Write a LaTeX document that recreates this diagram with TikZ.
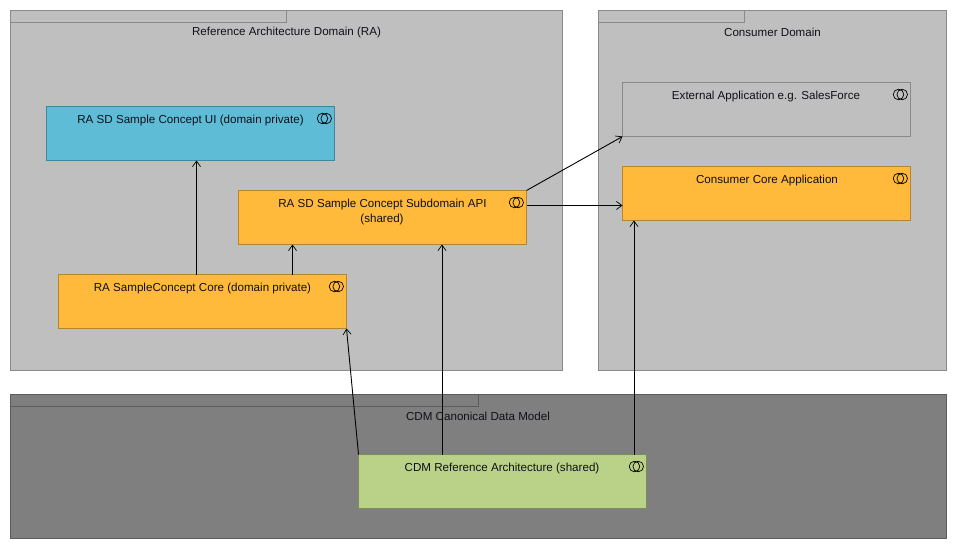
\documentclass[tikz,border=0pt]{standalone}
\usepackage{fontspec}
\setmainfont{Liberation Sans}
\usetikzlibrary{arrows.meta}
\definecolor{pkgfill}{HTML}{BFBFBF}
\definecolor{pkgline}{HTML}{8A8A8A}
\definecolor{cdmfill}{HTML}{7F7F7F}
\definecolor{cdmline}{HTML}{5C5C5C}
\definecolor{bluefill}{HTML}{5EBCD7}
\definecolor{blueline}{HTML}{3F879C}
\definecolor{orangefill}{HTML}{FFB93B}
\definecolor{orangeline}{HTML}{B8862A}
\definecolor{greenfill}{HTML}{B9D287}
\definecolor{greenline}{HTML}{7A8F55}
\definecolor{inkcol}{HTML}{101018}
\tikzset{
  x=1pt,y=-1pt,
  every node/.style={font=\fontsize{11.6}{14}\selectfont,text=inkcol},
  pkgbox/.style={draw=pkgline,fill=pkgfill,line width=0.9pt,minimum height=#1,inner sep=0pt,outer sep=0pt,anchor=north west},
  compbox/.style={draw=#1line,fill=#1fill,line width=0.9pt,minimum width=288pt,minimum height=54pt,inner sep=0pt,outer sep=0pt,anchor=north west},
  dep/.style={draw=black,line width=0.9pt,-{Straight Barb[length=5.5pt,width=8pt,line width=0.7pt]}},
  ringline/.style={draw=black,line width=0.7pt},
  lbl/.style={inner sep=0pt,anchor=center}
}
\newcommand{\rings}[1]{%
  \draw[ringline] ([xshift=-12pt,yshift=-12pt]#1.north east) circle[radius=5.3pt];
  \draw[ringline] ([xshift=-8.3pt,yshift=-12pt]#1.north east) circle[radius=5.3pt];
}
\begin{document}
\begin{tikzpicture}
\useasboundingbox (0,0) rectangle (957,549);
\fill[white] (0,0) rectangle (957,549);
% packages
\node[pkgbox=360pt,minimum width=552pt] (ra) at (10.5,10.5) {};
\node[pkgbox=360pt,minimum width=348pt] (cons) at (598.5,10.5) {};
\node[pkgbox=144pt,minimum width=936pt,draw=cdmline,fill=cdmfill] (cdm) at (10.5,394.5) {};
\node[pkgbox=12pt,minimum width=276pt] (ratab) at (ra.north west) {};
\node[pkgbox=12pt,minimum width=146pt] (constab) at (cons.north west) {};
\node[pkgbox=12pt,minimum width=468pt,draw=cdmline,fill=cdmfill] (cdmtab) at (cdm.north west) {};
\node[lbl] (ralbl) at (286.5,32) {Reference Architecture Domain (RA)};
\node[lbl] (conslbl) at (772.5,32) {Consumer Domain};
% components
\node[compbox=blue] (ui) at (46.5,106.5) {};
\node[compbox=orange] (api) at (238.5,190.5) {};
\node[compbox=orange] (core) at (58.5,274.5) {};
\node[compbox=pkg] (ext) at (622.5,82.5) {};
\node[compbox=orange] (ccore) at (622.5,166.5) {};
\node[compbox=green] (ref) at (358.5,454.5) {};
\rings{ui}\rings{api}\rings{core}\rings{ext}\rings{ccore}\rings{ref}
% connectors
\draw[dep] ([xshift=138pt]core.north west) -- ([xshift=150pt]ui.south west);
\draw[dep] ([xshift=234pt]core.north west) -- ([xshift=54pt]api.south west);
\draw[dep] (ref.north west) -- (core.south east);
\draw[dep] ([xshift=83.5pt]ref.north west) -- ([xshift=203.5pt]api.south west);
\draw[dep] ([xshift=275.5pt]ref.north west) -- ([xshift=11.5pt]ccore.south west);
\draw[dep] (api.north east) -- (ext.south west);
\draw[dep] ([yshift=-15pt]api.north east) -- ([yshift=-39pt]ccore.north west);
% labels
\node[lbl] (cdmlbl) at (478,416) {CDM Canonical Data Model};
\node[lbl] at (190.5,120) {RA SD Sample Concept UI (domain private)};
\node[lbl] at (382.5,204) {RA SD Sample Concept Subdomain API};
\node[lbl] at (382,219.5) {(shared)};
\node[lbl] at (202.5,288) {RA SampleConcept Core (domain private)};
\node[lbl] at (766,96) {External Application e.g. SalesForce};
\node[lbl] at (767,180) {Consumer Core Application};
\node[lbl] at (502,468) {CDM Reference Architecture (shared)};
\end{tikzpicture}
\end{document}
